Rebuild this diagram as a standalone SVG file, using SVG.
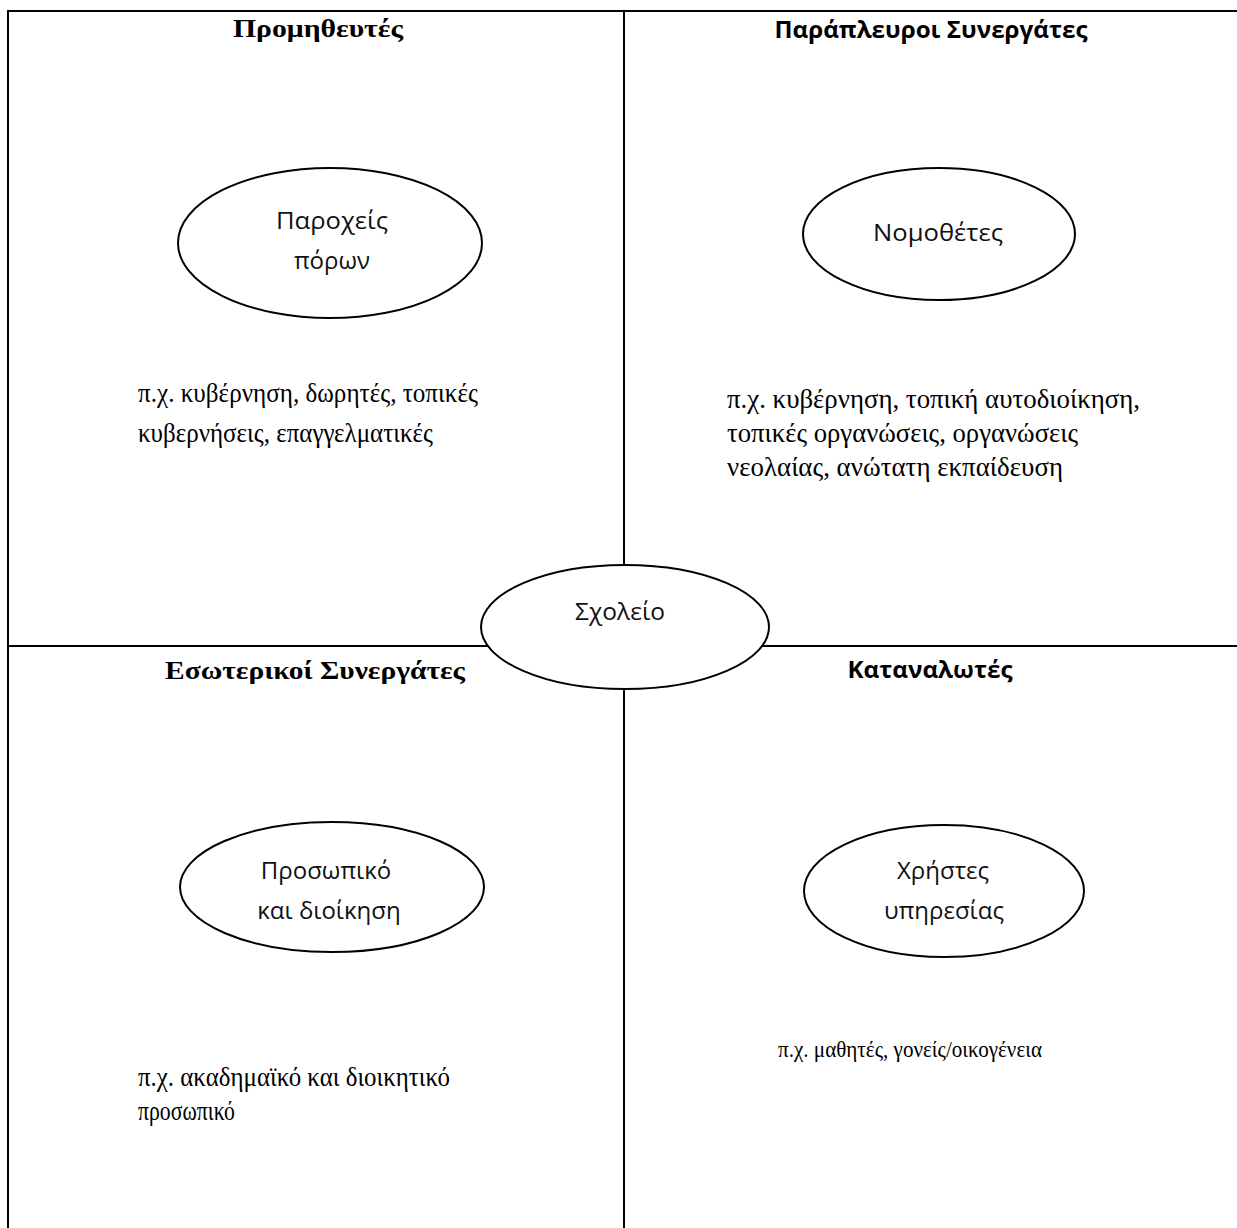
<svg xmlns="http://www.w3.org/2000/svg" width="1237" height="1228" viewBox="0 0 1237 1228">
<style>
.ln{stroke:#000;stroke-width:2;fill:none}
.el{stroke:#000;stroke-width:2;fill:#fff}
.hs{font-family:"Liberation Serif",serif;font-weight:bold;font-size:26px;text-anchor:middle}
.hn{font-family:"Open Sans","Liberation Sans",sans-serif;font-weight:bold;font-size:23px;text-anchor:middle}
.nl{font-family:"Open Sans","Liberation Sans",sans-serif;font-size:24px;text-anchor:middle;fill:#111}
.bt{font-family:"Liberation Serif",serif;font-size:27px}
.bs{font-family:"Liberation Serif",serif;font-size:23px}
</style>
<rect width="1237" height="1228" fill="#fff"/>
<g id="connectors">
<polyline class="ln" points="8,1228 8,11 1237,11"/>
<line class="ln" x1="624" y1="11" x2="624" y2="1228"/>
<line class="ln" x1="8" y1="646" x2="1237" y2="646"/>
</g>
<g id="heading-suppliers"><text class="hs" x="318" y="37" textLength="170" lengthAdjust="spacingAndGlyphs">Προμηθευτές</text></g>
<g id="heading-lateral"><text class="hn" x="931" y="38" textLength="313" lengthAdjust="spacingAndGlyphs">Παράπλευροι Συνεργάτες</text></g>
<g id="heading-internal"><text class="hs" x="315" y="679" textLength="300" lengthAdjust="spacingAndGlyphs">Εσωτερικοί Συνεργάτες</text></g>
<g id="heading-consumers"><text class="hn" x="930" y="678" textLength="165" lengthAdjust="spacingAndGlyphs">Καταναλωτές</text></g>
<g id="node-providers">
<ellipse class="el" cx="330" cy="243" rx="152" ry="75"/>
<text class="nl" x="332" y="229" textLength="112" lengthAdjust="spacingAndGlyphs">Παροχείς</text>
<text class="nl" x="332" y="269">πόρων</text>
</g>
<g id="node-legislators">
<ellipse class="el" cx="939" cy="234" rx="136" ry="66"/>
<text class="nl" x="938" y="241" textLength="130" lengthAdjust="spacingAndGlyphs">Νομοθέτες</text>
</g>
<g id="node-school">
<ellipse class="el" cx="625" cy="627" rx="144" ry="62"/>
<text class="nl" x="620" y="620" textLength="90" lengthAdjust="spacingAndGlyphs">Σχολείο</text>
</g>
<g id="node-staff">
<ellipse class="el" cx="332" cy="887" rx="152" ry="65"/>
<text class="nl" x="326" y="879">Προσωπικό</text>
<text class="nl" x="329" y="919">και διοίκηση</text>
</g>
<g id="node-users">
<ellipse class="el" cx="944" cy="891" rx="140" ry="66"/>
<text class="nl" x="943" y="879">Χρήστες</text>
<text class="nl" x="944" y="919">υπηρεσίας</text>
</g>
<g id="text-suppliers">
<text class="bt" x="138" y="402" textLength="340" lengthAdjust="spacingAndGlyphs">π.χ. κυβέρνηση, δωρητές, τοπικές</text>
<text class="bt" x="138" y="442" textLength="295" lengthAdjust="spacingAndGlyphs">κυβερνήσεις, επαγγελματικές</text>
</g>
<g id="text-lateral">
<text class="bt" x="727" y="408" textLength="413" lengthAdjust="spacingAndGlyphs">π.χ. κυβέρνηση, τοπική αυτοδιοίκηση,</text>
<text class="bt" x="727" y="442" textLength="351" lengthAdjust="spacingAndGlyphs">τοπικές οργανώσεις, οργανώσεις</text>
<text class="bt" x="727" y="476" textLength="336" lengthAdjust="spacingAndGlyphs">νεολαίας, ανώτατη εκπαίδευση</text>
</g>
<g id="text-internal">
<text class="bt" x="138" y="1086" textLength="312" lengthAdjust="spacingAndGlyphs">π.χ. ακαδημαϊκό και διοικητικό</text>
<text class="bt" x="138" y="1120" textLength="97" lengthAdjust="spacingAndGlyphs">προσωπικό</text>
</g>
<g id="text-consumers">
<text class="bs" x="778" y="1057" textLength="264" lengthAdjust="spacingAndGlyphs">π.χ. μαθητές, γονείς/οικογένεια</text>
</g>
</svg>
